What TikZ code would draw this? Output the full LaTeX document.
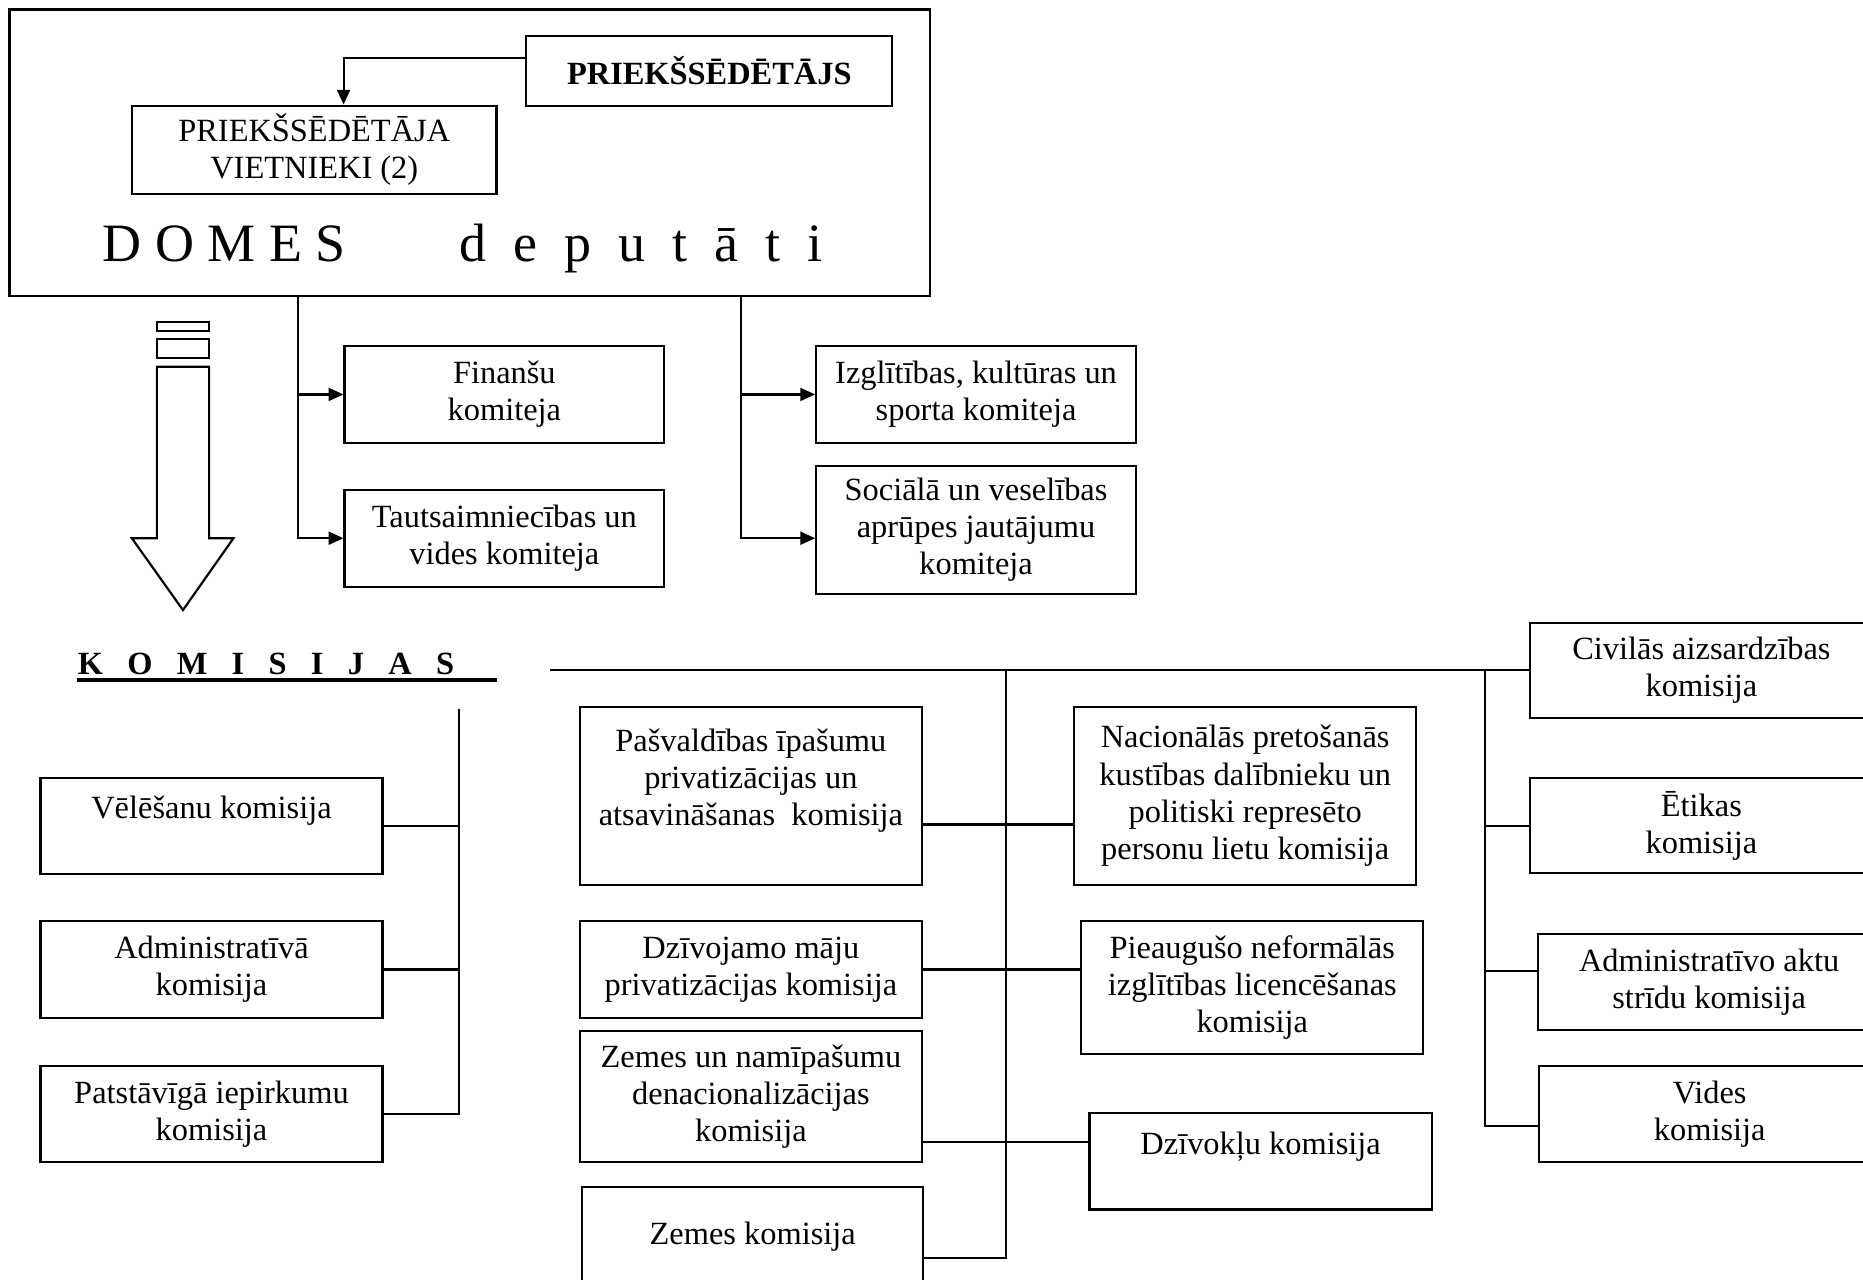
\documentclass[tikz,border=0pt]{standalone}
\usepackage{fontspec}
\setmainfont{Liberation Serif}
\usetikzlibrary{arrows.meta,calc}

\tikzset{
    box/.style 2 args={draw,rectangle,align=center,inner sep=2pt,
        line width=0.8pt,minimum width=#1,minimum height=#2,
        font=\fontsize{12}{13.8}\selectfont},
    link/.style={line width=0.8pt},
    tie/.style={->,line width=0.8pt}
}

\begin{document}
\begin{tikzpicture}[x=0.44pt,y=-0.44pt,
    >={Triangle[length=5.5pt,width=4.8pt]}]
    \useasboundingbox (0,0) rectangle (1568,1077);
    \clip (0,0) rectangle (1568,1077);

    % council and its leaders
    \node[box={341pt}{106pt}]   (dome)   at (395.5,128.5) {};
    \node[box={135.5pt}{26pt},font=\fontsize{12}{13.8}\selectfont\bfseries]
                                (chair)  at (597,59.5)    {PRIEKŠSĒDĒTĀJS};
    \node[box={135pt}{32.6pt}]  (deputy) at (264.5,126)   {PRIEKŠSĒDĒTĀJA\\VIETNIEKI (2)};
    \node[anchor=base west,inner sep=0pt,font=\fontsize{20}{24}\selectfont]
        (domes) at (86,220) {D O M E S\hspace{37pt} d\ \ e\ \ p\ \ u\ \ t\ \ ā\ \ t\ \ i};

    \draw[tie] ($(chair.north west)!0.32!(chair.south west)$)
        -| ($(deputy.north west)!0.58!(deputy.north east)$);

    % committees
    \node[box={118.4pt}{36pt}]   (fin)  at (424.5,332) {Finanšu\\komiteja};
    \node[box={118.4pt}{36pt}]   (taut) at (424.5,453) {Tautsaimniecības un\\vides komiteja};
    \node[box={118.4pt}{36pt}]   (izgl) at (821.5,332) {Izglītības, kultūras un\\sporta komiteja};
    \node[box={118.4pt}{47.5pt}] (soc)  at (821.5,446) {Sociālā un veselības\\aprūpes jautājumu\\komiteja};

    \coordinate (lt) at ($(dome.south west)!0.3135!(dome.south east)$);
    \coordinate (rt) at ($(dome.south west)!0.7935!(dome.south east)$);
    \draw[tie] (lt) |- (taut.west);
    \draw[tie] (lt |- fin.west) -- (fin.west);
    \draw[tie] (rt) |- (soc.west |- taut.west);
    \draw[tie] (rt |- izgl.west) -- (izgl.west);

    % hollow arrow down to the commissions
    \draw[link] (132,270.8) rectangle (176,278.4)
                (132,285.6) rectangle (176,301.1);
    \draw[link] (132,308.7) -- (132,453) -- (111,453) -- (154,513.5)
        -- (196.5,453) -- (176,453) -- (176,308.7) -- cycle;

    % commissions
    \node[anchor=base west,inner sep=0pt,font=\fontsize{12}{13.8}\selectfont\bfseries]
        (kom) at (65,568) {K\ \ \ O\ \ \ M\ \ \ I\ \ \ S\ \ \ I\ \ \ J\ \ \ A\ \ \ S};
    \draw[line width=1.5pt] ([yshift=-1.8pt]kom.base west) -- ++(353.5,0);

    \node[box={126.7pt}{35.6pt}] (velesanu) at (178,695.5) {Vēlēšanu komisija\\\mbox{}};
    \node[box={126.7pt}{36pt}]   (admin)    at (178,816)   {Administratīvā\\komisija};
    \node[box={126.7pt}{35.6pt}] (patst)    at (178,937.5) {Patstāvīgā iepirkumu\\komisija};

    \node[box={126.7pt}{66pt}]   (pasv)   at (632,670)    {Pašvaldības īpašumu\\privatizācijas un\\atsavināšanas\ \ komisija\\\mbox{}};
    \node[box={126.7pt}{36pt}]   (dzivm)  at (632,816)    {Dzīvojamo māju\\privatizācijas komisija};
    \node[box={126.7pt}{48.4pt}] (zemnam) at (632,923)    {Zemes un namīpašumu\\denacionalizācijas\\komisija};
    \node[box={126.3pt}{48.4pt}] (zemes)  at (633.5,1054) {Zemes komisija\\\mbox{}};

    \node[box={126.7pt}{66pt}]   (nacpr)  at (1048,670)   {Nacionālās pretošanās\\kustības dalībnieku un\\politiski represēto\\personu lietu komisija};
    \node[box={126.7pt}{49.3pt}] (pieaug) at (1054,831)   {Pieaugušo neformālās\\izglītības licencēšanas\\komisija};
    \node[box={126.7pt}{35.6pt}] (dzivok) at (1061,977.5) {Dzīvokļu komisija\\\mbox{}};

    \node[box={126.7pt}{35.2pt}] (civil)  at (1432,564)    {Civilās aizsardzības\\komisija};
    \node[box={126.7pt}{35.2pt}] (etika)  at (1432,695)    {Ētikas\\komisija};
    \node[box={126.7pt}{35.6pt}] (admakt) at (1438.5,826.5) {Administratīvo aktu\\strīdu komisija};
    \node[box={126.7pt}{35.6pt}] (vides)  at (1439,937.5)  {Vides\\komisija};

    % commission links
    \coordinate (bus) at (463,564);
    \draw[link] (bus) -- (civil.west);

    \coordinate (kt) at (386,597);
    \draw[link] (kt) |- (patst.east);
    \draw[link] (velesanu.east) -- (velesanu.east -| kt);
    \draw[link] (admin.east) -- (admin.east -| kt);

    \coordinate (mt) at (847,564);
    \coordinate (m1) at (847,694);
    \coordinate (m3) at (847,961);
    \coordinate (mz) at (847,1059);
    \draw[link] (mt) -- (mz) -- (mz -| zemes.east);
    \draw[link] (m1 -| pasv.east) -- (m1 -| nacpr.west);
    \draw[link] (dzivm.east) -- (dzivm.east -| pieaug.west);
    \draw[link] (m3 -| zemnam.east) -- (m3 -| dzivok.west);

    \coordinate (r0) at (1250,564);
    \coordinate (r2) at (1250,817);
    \coordinate (r3) at (1250,948);
    \draw[link] (r0) |- (r3 -| vides.west);
    \draw[link] (etika.west -| r0) -- (etika.west);
    \draw[link] (r2) -- (r2 -| admakt.west);
\end{tikzpicture}
\end{document}
